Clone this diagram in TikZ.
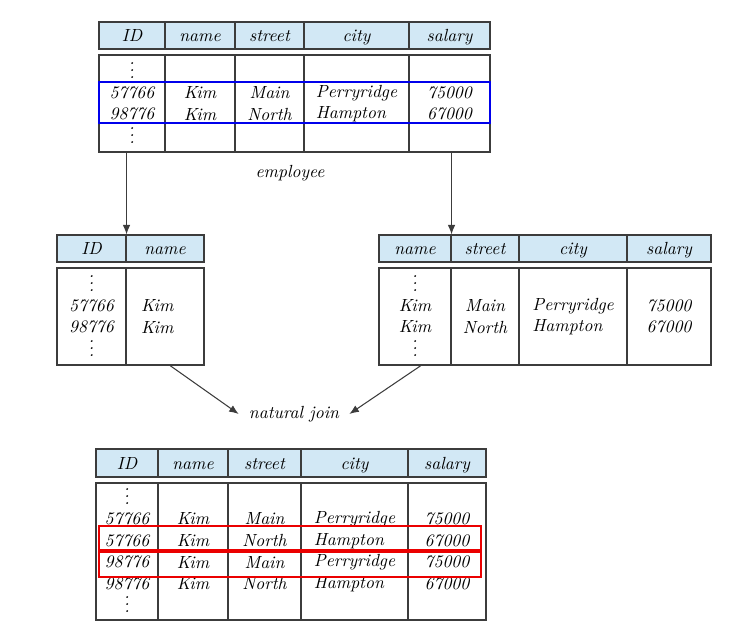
\documentclass[tikz,border=0pt]{standalone}
\usepackage{tikz}
\usepackage{xcolor}
\usetikzlibrary{arrows.meta,positioning}
\definecolor{headblue}{RGB}{210,232,245}
\definecolor{gridgray}{RGB}{60,60,60}
\definecolor{hlblue}{RGB}{0,0,235}
\definecolor{hlred}{RGB}{235,0,0}
\newcommand{\rowdots}{\vphantom{0}\smash{\raisebox{-1pt}{$\vdots$}}}

\begin{document}
\begin{tikzpicture}[
    x=0.02cm,y=-0.02cm,
    every node/.style={font=\itshape\fontsize{10}{12.3}\selectfont},
    head/.style={rectangle,draw=gridgray,fill=headblue,line width=0.6pt,
      inner sep=0pt,text height=8pt,text depth=1pt},
    body/.style={rectangle,draw=gridgray,line width=0.6pt,inner sep=0pt},
    label/.style={inner sep=0.2cm},
    hilite/.style={line width=1.6pt},
    arrow/.style={-{Latex[length=1.9mm,width=1.5mm]},line width=0.6pt,draw=gridgray}
  ]
    \useasboundingbox (0,0) rectangle (753,634);

    % employee
    \foreach \i/\xa/\xb/\hd/\al/\txt in {
        1/99/165/ID/center/{\rowdots\\57766\\98776\\\rowdots},
        2/165/235/name/center/{Kim\\Kim},
        3/235/304/street/center/{Main\\North},
        4/304/409/city/left/{Perryridge\\Hampton},
        5/409/490/salary/center/{75000\\67000}} {
      \node[head,minimum width={(\xb-\xa)*0.02cm},minimum height=0.54cm]
        (eh\i) at ({(\xa+\xb)/2},35.5) {\hd};
      \node[body,align=\al,minimum width={(\xb-\xa)*0.02cm},minimum height=1.94cm]
        (eb\i) at ({(\xa+\xb)/2},103.5) {\txt};
    }
    \draw[hilite,draw=hlblue] (99,82) rectangle (490,123);
    \node (emplabel) at (290,173) {employee};

    % ID, name
    \foreach \i/\xa/\xb/\pad/\hd/\al/\txt in {
        1/57/126/0/ID/center/{\rowdots\\57766\\98776\\\rowdots},
        2/126/204/15/name/left/{Kim\\Kim}} {
      \node[head,minimum width={(\xb-\xa)*0.02cm},minimum height=0.54cm]
        (ph\i) at ({(\xa+\xb)/2},248.5) {\hd};
      \node[body,align=\al,text width={(\xb-\xa-2*\pad)*0.02cm},
        minimum width={(\xb-\xa)*0.02cm},minimum height=1.94cm]
        (pb\i) at ({(\xa+\xb)/2},316.5) {\txt};
    }

    % name, street, city, salary
    \foreach \i/\xa/\xb/\hd/\al/\txt in {
        1/379/451/name/center/{\rowdots\\Kim\\Kim\\\rowdots},
        2/451/519/street/center/{Main\\North},
        3/519/627/city/left/{Perryridge\\Hampton},
        4/627/711/salary/center/{75000\\67000}} {
      \node[head,minimum width={(\xb-\xa)*0.02cm},minimum height=0.54cm]
        (qh\i) at ({(\xa+\xb)/2},248.5) {\hd};
      \node[body,align=\al,minimum width={(\xb-\xa)*0.02cm},minimum height=1.94cm]
        (qb\i) at ({(\xa+\xb)/2},316.5) {\txt};
    }

    \draw[arrow] (ph1.north east |- eb1.south) -- (ph1.north east);
    \draw[arrow] (qh1.north east |- eb5.south) -- (qh1.north east);

    \node[label] (njoin) at (294,414) {natural join};
    \draw[arrow] ([xshift=0.1cm]pb2.south) -- (njoin.west);
    \draw[arrow] ([xshift=0.12cm]qb1.south) -- (njoin.east);

    % result of the join
    \foreach \i/\xa/\xb/\hd/\al/\txt in {
        1/96/158/ID/center/{\rowdots\\57766\\57766\\98776\\98776\\\rowdots},
        2/158/228/name/center/{Kim\\Kim\\Kim\\Kim},
        3/228/301/street/center/{Main\\North\\Main\\North},
        4/301/408/city/left/{Perryridge\\Hampton\\Perryridge\\Hampton},
        5/408/486/salary/center/{75000\\67000\\75000\\67000}} {
      \node[head,minimum width={(\xb-\xa)*0.02cm},minimum height=0.56cm]
        (rh\i) at ({(\xa+\xb)/2},463) {\hd};
      \node[body,align=\al,minimum width={(\xb-\xa)*0.02cm},minimum height=2.74cm]
        (rb\i) at ({(\xa+\xb)/2},551.5) {\txt};
    }
    \draw[hilite,draw=hlred] (99,526) rectangle (481,550);
    \draw[hilite,draw=hlred] (99,552) rectangle (481,577);
  \end{tikzpicture}
\end{document}
